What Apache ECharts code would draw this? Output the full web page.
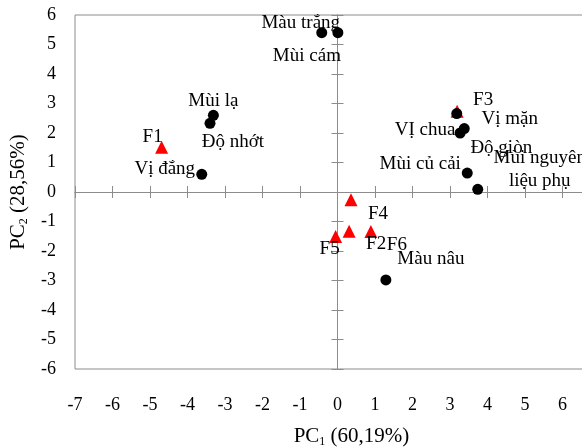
<!DOCTYPE html>
<html>
<head>
<meta charset="utf-8">
<script src="https://cdn.jsdelivr.net/npm/echarts@6/dist/echarts.min.js"></script>
<style>html,body{margin:0;padding:0;background:#fff;}#c{width:582px;height:448px;}</style>
</head>
<body>
<div id="c"></div>
<script>
// ---- data ----
const sampleNames = ['F1', 'F2', 'F3', 'F4', 'F5', 'F6'];
const samplePC1 = [-4.69, 0.31, 3.19, 0.36, -0.05, 0.89];
const samplePC2 = [1.52, -1.33, 2.74, -0.26, -1.51, -1.34];

const attrNames = ['Màu trắng', 'Mùi cám', 'Mùi lạ', 'Độ nhớt', 'Vị đắng', 'Vị mặn', 'VỊ chua', 'Độ giòn', 'Mùi củ cải', 'Mùi nguyên\nliệu phụ', 'Màu nâu'];
const attrPC1 = [-0.42, 0.01, -3.31, -3.40, -3.62, 3.18, 3.27, 3.38, 3.46, 3.74, 1.29];
const attrPC2 = [5.40, 5.40, 2.60, 2.33, 0.60, 2.66, 2.00, 2.15, 0.64, 0.09, -2.98];

const xTicks = { min: -7, max: 7, interval: 1 };
const yTicks = { min: -6, max: 6, interval: 1 };
const xName = 'PC1 (60,19%)';
const yName = 'PC2 (28,56%)';

// ---- label placement (style only, pixels) ----
const sampleLabelOffsets = [[-9, -10], [27, 13], [26, -11], [27, 14], [-6, 12], [26, 13]];
const attrLabelOffsets = [[-21, -10], [-31, 23], [0, -14], [23, 19], [-37, -5], [53, 5], [-35, -3], [37, 19], [-47, -9], [62, -20], [45, -21]];

const FONT = 'Liberation Serif';
const GRAY = '#8c8c8c';

function subName(s) {
  return '{a|' + s.slice(0, 2) + '}{s|' + s.charAt(2) + '}{a|' + s.slice(3) + '}';
}
const nameRich = {
  a: { fontFamily: FONT, fontSize: 21, color: '#000', lineHeight: 24, verticalAlign: 'middle' },
  s: { fontFamily: FONT, fontSize: 12, color: '#000', lineHeight: 12, verticalAlign: 'bottom' }
};

function zeroAxis(position) {
  const isY = position === 'left' || position === 'right';
  const t = isY ? yTicks : xTicks;
  return {
    type: 'value', position: position, min: t.min, max: t.max, interval: t.interval,
    axisLine: { show: true, onZero: true, onZeroAxisIndex: 0, lineStyle: { color: GRAY, width: 1 } },
    axisTick: { show: true, inside: false, length: 6, lineStyle: { color: GRAY, width: 1 } },
    axisLabel: { show: false },
    splitLine: { show: false }
  };
}

const chart = echarts.init(document.getElementById('c'), null, { renderer: 'canvas' });
chart.setOption({
  animation: false,
  backgroundColor: '#fff',
  grid: { left: 75, right: -18, top: 15, bottom: 79, show: true, borderColor: GRAY, borderWidth: 1, containLabel: false, outerBoundsMode: 'none' },
  xAxis: [
    zeroAxis('bottom'),
    zeroAxis('top'),
    {
      type: 'value', position: 'bottom', min: xTicks.min, max: xTicks.max, interval: xTicks.interval,
      axisLine: { show: false, onZero: false }, axisTick: { show: false }, splitLine: { show: false },
      axisLabel: { show: true, margin: 27, fontFamily: FONT, fontSize: 18, color: '#000', showMinLabel: true, showMaxLabel: true },
      name: subName(xName), nameLocation: 'middle', nameGap: 55,
      nameTextStyle: { fontFamily: FONT, fontSize: 21, color: '#000', padding: [0, 0, 0, 28], rich: nameRich }
    }
  ],
  yAxis: [
    zeroAxis('left'),
    zeroAxis('right'),
    {
      type: 'value', position: 'left', min: yTicks.min, max: yTicks.max, interval: yTicks.interval,
      axisLine: { show: false, onZero: false }, axisTick: { show: false }, splitLine: { show: false },
      axisLabel: { show: true, margin: 19, fontFamily: FONT, fontSize: 18, color: '#000' },
      name: subName(yName), nameLocation: 'middle', nameGap: 43, nameRotate: 90,
      nameTextStyle: { fontFamily: FONT, fontSize: 21, color: '#000', rich: nameRich }
    }
  ],
  series: [
    {
      type: 'scatter', xAxisIndex: 0, yAxisIndex: 0,
      symbol: 'triangle', symbolSize: 13,
      itemStyle: { color: '#ff0000', opacity: 1 },
      label: { show: true, position: 'inside', formatter: '{b}', fontFamily: FONT, fontSize: 19, color: '#000' },
      data: sampleNames.map((n, i) => ({ name: n, value: [samplePC1[i], samplePC2[i]], label: { offset: sampleLabelOffsets[i] } }))
    },
    {
      type: 'scatter', xAxisIndex: 0, yAxisIndex: 0,
      symbol: 'circle', symbolSize: 11,
      itemStyle: { color: '#000', opacity: 1 },
      label: { show: true, position: 'inside', formatter: '{b}', fontFamily: FONT, fontSize: 19, color: '#000', lineHeight: 23, align: 'center' },
      data: attrNames.map((n, i) => ({ name: n, value: [attrPC1[i], attrPC2[i]], label: { offset: attrLabelOffsets[i] } }))
    }
  ]
});
</script>
</body>
</html>
